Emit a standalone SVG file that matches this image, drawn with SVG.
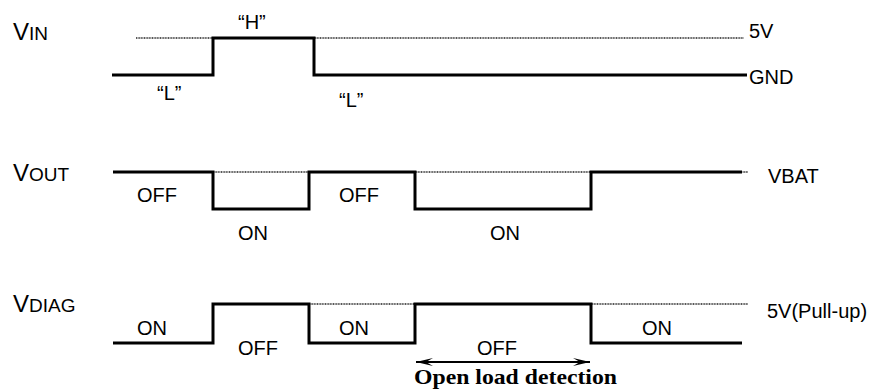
<svg xmlns="http://www.w3.org/2000/svg" width="876" height="390" viewBox="0 0 876 390">
<defs>
<style>
.t{font-family:"Liberation Sans",Arial,sans-serif;font-size:20px;fill:#000}
.big{font-family:"Liberation Sans",Arial,sans-serif;font-size:24px;fill:#000}
.sc{font-size:19px}
.w{fill:none;stroke:#000;stroke-width:3;stroke-linejoin:miter}
.d{fill:none;stroke:#222;stroke-width:1.3;stroke-dasharray:1 0.6}
.b{font-family:"Liberation Serif","Times New Roman",serif;font-size:22px;font-weight:bold;fill:#000}
</style>
<marker id="ah" markerWidth="18" markerHeight="10" refX="17" refY="5" orient="auto-start-reverse" markerUnits="userSpaceOnUse">
<path d="M0,1 L17,5 L0,9 L7,5 Z" fill="#000"/>
</marker>
</defs>
<g id="vin">
<text class="big" x="13" y="40">V<tspan class="sc">IN</tspan></text>
<line class="d" x1="136" y1="38" x2="744" y2="38"/>
<polyline class="w" points="112,75 213,75 213,38 314,38 314,75 747,75"/>
<text class="t" x="238" y="29">“H”</text>
<text class="t" x="157" y="100">“L”</text>
<text class="t" x="339" y="107">“L”</text>
<text class="t" x="749" y="38">5V</text>
<text class="t" x="749" y="84">GND</text>
</g>
<g id="vout">
<text class="big" x="13" y="181">V<tspan class="sc">OUT</tspan></text>
<line class="d" x1="213" y1="172" x2="748" y2="172"/>
<polyline class="w" points="113,172 213,172 213,209 309,209 309,172 415,172 415,209 591,209 591,172 742,172"/>
<text class="t" x="137" y="202">OFF</text>
<text class="t" x="238" y="240">ON</text>
<text class="t" x="339" y="202">OFF</text>
<text class="t" x="490" y="240">ON</text>
<text class="t" x="768" y="183">VBAT</text>
</g>
<g id="vdiag">
<text class="big" x="13" y="312">V<tspan class="sc">DIAG</tspan></text>
<line class="d" x1="309" y1="304" x2="748" y2="304"/>
<polyline class="w" points="113,343 213,343 213,304 309,304 309,343 415,343 415,304 591,304 591,343 742,343"/>
<text class="t" x="137" y="335">ON</text>
<text class="t" x="238" y="355">OFF</text>
<text class="t" x="339" y="335">ON</text>
<text class="t" x="477" y="355">OFF</text>
<text class="t" x="642" y="335">ON</text>
<text class="t" x="767" y="318">5V(Pull-up)</text>
</g>
<g id="connectors">
<line x1="416" y1="362" x2="590" y2="362" stroke="#000" stroke-width="2" marker-start="url(#ah)" marker-end="url(#ah)"/>
</g>
<g id="open-load">
<text class="b" x="414" y="384" textLength="203" lengthAdjust="spacingAndGlyphs">Open load detection</text>
</g>
</svg>
